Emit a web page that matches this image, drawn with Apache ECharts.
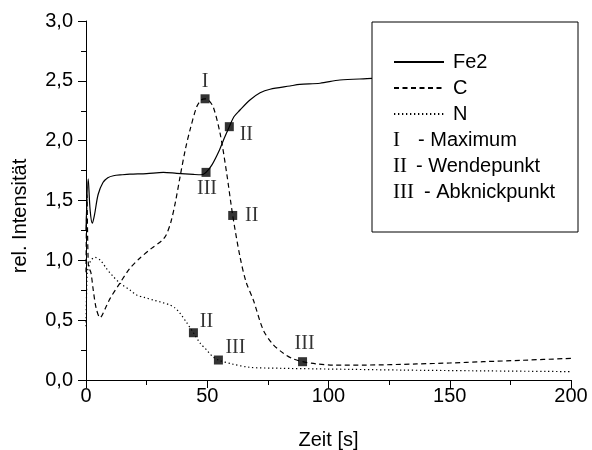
<!DOCTYPE html>
<html>
<head>
<meta charset="utf-8">
<script src="https://cdn.jsdelivr.net/npm/echarts@6/dist/echarts.min.js"></script>
<style>
  html, body { margin: 0; padding: 0; background: #fff; }
  #chart { width: 592px; height: 450px; }
</style>
</head>
<body>
<div id="chart"></div>
<script>
// time [s], relative intensity
const fe2 = [
  [0, 1.25], [0.9, 1.68], [1.7, 1.42], [2.6, 1.31], [3.5, 1.38], [5, 1.55], [7, 1.65], [9, 1.69],
  [11.3, 1.707], [15, 1.715], [18.1, 1.72], [25, 1.725], [31.9, 1.735], [37.4, 1.727],
  [44.3, 1.718], [47.5, 1.715], [49.5, 1.735], [52, 1.8], [55, 1.92], [57, 2.02], [59.1, 2.117],
  [61, 2.2], [63.5, 2.256], [67.6, 2.34], [71.8, 2.4], [75.9, 2.43], [84.1, 2.457], [88.2, 2.47],
  [96.5, 2.48], [104.7, 2.507], [118, 2.52], [140, 2.55], [170, 2.57], [200, 2.59]
];
const carbon = [
  [0, 0.9], [0.4, 1.55], [1, 0.95], [2, 0.9], [3, 0.75], [4.2, 0.6], [5.8, 0.52], [8, 0.6],
  [9.9, 0.68], [14, 0.81], [18, 0.93], [22.3, 1.02], [27, 1.1], [31, 1.16], [33, 1.21],
  [35, 1.32], [37, 1.5], [38.8, 1.7], [41, 1.93], [42.9, 2.09], [45.6, 2.28], [47.5, 2.34],
  [49.1, 2.35], [50.5, 2.34], [52.5, 2.28], [55.3, 2.06], [58, 1.73], [60.5, 1.375],
  [63.5, 1.03], [66, 0.82], [69, 0.668], [73.1, 0.418], [77, 0.3], [81.4, 0.223], [85, 0.18],
  [89.3, 0.153], [95, 0.135], [102, 0.125], [115, 0.125], [136.4, 0.134], [150, 0.142],
  [163.8, 0.153], [180, 0.165], [200, 0.181]
];
const nitrogen = [
  [0, 0.45], [0.5, 0.9], [1.2, 0.95], [2, 1.0], [3.7, 1.025], [6, 1.0], [8.5, 0.93],
  [11.3, 0.863], [14, 0.81], [18.1, 0.752], [20.9, 0.71], [24, 0.69], [27.8, 0.668],
  [31, 0.65], [34.6, 0.627], [36.8, 0.6], [38.8, 0.557], [41.5, 0.48], [44.3, 0.395],
  [47, 0.31], [49.8, 0.25], [52, 0.2], [54.6, 0.167], [60, 0.135], [67.6, 0.106], [80, 0.098],
  [95, 0.093], [108.9, 0.089], [130, 0.083], [160, 0.077], [200, 0.07]
];
// marked points: x, y, label
const markers = [
  [49.1, 2.35, 'I'], [60.5, 1.375, 'II'], [89.3, 0.153, 'III'],
  [49.5, 1.735, 'III'], [59.1, 2.117, 'II'],
  [44.3, 0.395, 'II'], [54.6, 0.167, 'III']
];
const seriesNames = ['Fe2', 'C', 'N'];
const legendNotes = [['I', '- Maximum'], ['II', '- Wendepunkt'], ['III', '- Abknickpunkt']];
const xRange = { min: 0, max: 200, major: 50, minor: 25 };
const yRange = { min: 0, max: 3, major: 0.5, minor: 0.25 };

// label offsets for the marker labels, same order as markers
const labelOffsets = [[0, -17], [19, 0], [2, -18], [1, 16], [17, 8], [13, -11], [17, -12]];

const chart = echarts.init(document.getElementById('chart'));
const font = 'Liberation Sans, Arial, sans-serif';
const serif = 'Liberation Serif, Times New Roman, serif';

// main axis: line, labels, long ticks; second axis: short minor ticks only
const makeAxes = (r, extra, margin) => [
  Object.assign({
    type: 'value', min: r.min, max: r.max, interval: r.major,
    axisLine: { lineStyle: { color: '#000', width: 1 } },
    axisTick: { length: 8, lineStyle: { color: '#000' } },
    splitLine: { show: false },
    axisLabel: { color: '#000', fontSize: 20, fontFamily: font, margin }
  }, extra),
  {
    type: 'value', min: r.min, max: r.max, interval: r.minor,
    axisLine: { show: false },
    axisTick: { length: 5, lineStyle: { color: '#000' } },
    axisLabel: { show: false },
    splitLine: { show: false }
  }
];

const lineSeries = (name, data, type) => ({
  name, type: 'line', data, symbol: 'none', smooth: 0.3, z: 2,
  itemStyle: { color: '#000' },
  lineStyle: { color: '#000', width: 1.2, type }
});

const xAxes = makeAxes(xRange, {
  name: 'Zeit [s]', nameLocation: 'middle', nameGap: 50,
  nameTextStyle: { color: '#000', fontSize: 20, fontFamily: font }
}, 6);
xAxes[1].position = 'bottom';
const yAxes = makeAxes(yRange, {
  axisLabel: { color: '#000', fontSize: 20, fontFamily: font, margin: 13,
    formatter: v => v.toFixed(1).replace('.', ',') }
}, 13);
yAxes[1].position = 'left';

chart.setOption({
  animation: false,
  grid: { left: 86, right: 21, top: 21, bottom: 70, outerBoundsMode: 'none' },
  xAxis: xAxes,
  yAxis: yAxes,
  legend: {
    data: seriesNames, orient: 'vertical', left: 393, top: 52, padding: 0,
    itemWidth: 50, itemHeight: 14, itemGap: 6, z: 60,
    itemStyle: { opacity: 0 },
    textStyle: { color: '#000', fontSize: 20, fontFamily: font, lineHeight: 20, padding: [0, 0, 0, 4] }
  },
  graphic: [
    { type: 'rect', z: 50, shape: { x: 372, y: 22, width: 206, height: 210 },
      style: { fill: '#fff', stroke: '#000', lineWidth: 1 } },
    ...legendNotes.map((n, i) => ({
      type: 'text', z: 60, x: 393, y: 140 + i * 26,
      style: { text: n[0], fill: '#000', font: '21px ' + serif, verticalAlign: 'middle' }
    })),
    ...legendNotes.map((n, i) => ({
      type: 'text', z: 60, x: [418, 416, 424][i], y: 140 + i * 26,
      style: { text: n[1], fill: '#000', font: '20px ' + font, verticalAlign: 'middle' }
    })),
    { type: 'text', z: 60, x: 20, y: 216, rotation: Math.PI / 2,
      style: { text: 'rel. Intensität', fill: '#000', font: '20px ' + font,
        align: 'center', verticalAlign: 'middle' } }
  ],
  series: [
    lineSeries(seriesNames[0], fe2, 'solid'),
    lineSeries(seriesNames[1], carbon, [5, 3.5]),
    lineSeries(seriesNames[2], nitrogen, [1.3, 2.7]),
    {
      type: 'scatter', symbol: 'rect', symbolSize: 9, z: 5,
      itemStyle: { color: '#000' },
      data: markers.map((m, i) => ({
        value: [m[0], m[1]],
        label: {
          show: true, formatter: m[2], position: 'inside', offset: labelOffsets[i],
          color: '#000', fontSize: 20, fontFamily: serif
        }
      }))
    }
  ]
});
</script>
</body>
</html>
